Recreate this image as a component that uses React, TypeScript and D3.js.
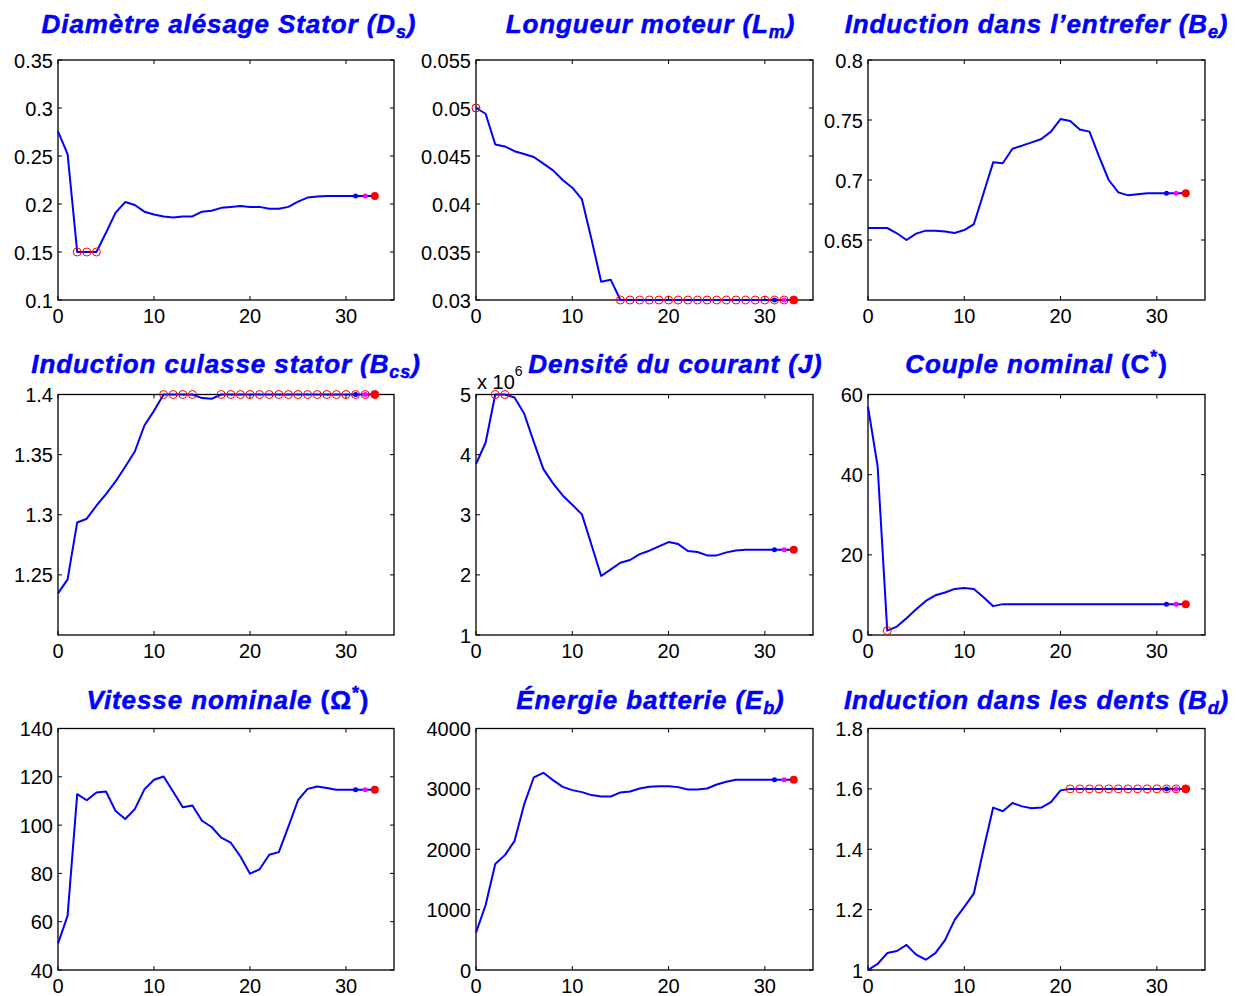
import React from "react";
import * as d3 from "d3";

// ---------- DATA ----------
const ITERATIONS = d3.range(0, 34); // x values 0..33

const DS = [0.2756, 0.252, 0.15, 0.15, 0.15, 0.170, 0.191, 0.202, 0.199, 0.192,
  0.189, 0.187, 0.186, 0.187, 0.187, 0.192, 0.193, 0.196, 0.197, 0.198,
  0.197, 0.197, 0.195, 0.195, 0.197, 0.2025, 0.2067, 0.2077, 0.2084, 0.2084,
  0.2084, 0.2084, 0.2084, 0.2084];
const DS_BOUND = [2, 3, 4];

const LM = [0.05, 0.0494, 0.0462, 0.0460, 0.0455, 0.0452, 0.0449, 0.0442, 0.0435, 0.0425,
  0.0417, 0.0405, 0.0363, 0.0319, 0.0321, 0.03, 0.03, 0.03, 0.03, 0.03,
  0.03, 0.03, 0.03, 0.03, 0.03, 0.03, 0.03, 0.03, 0.03, 0.03,
  0.03, 0.03, 0.03, 0.03];
const LM_BOUND = [0, 15, 16, 17, 18, 19, 20, 21, 22, 23, 24, 25, 26, 27, 28, 29, 30, 31, 32, 33];

const BE = [0.66, 0.66, 0.66, 0.6556, 0.65, 0.6553, 0.6578, 0.6578, 0.657, 0.6558,
  0.6583, 0.6633, 0.6889, 0.7147, 0.7139, 0.7261, 0.7286, 0.7314, 0.7342, 0.7403,
  0.7508, 0.7492, 0.742, 0.7403, 0.7194, 0.70, 0.6897, 0.6872, 0.6881, 0.6889,
  0.6889, 0.6889, 0.6889, 0.6889];
const BE_BOUND: number[] = [];

const BCS = [1.2346, 1.2463, 1.2936, 1.2967, 1.3075, 1.3172, 1.3277, 1.3399, 1.3526, 1.3742,
  1.3864, 1.4, 1.4, 1.4, 1.4, 1.397, 1.3964, 1.4, 1.4, 1.4,
  1.4, 1.4, 1.4, 1.4, 1.4, 1.4, 1.4, 1.4, 1.4, 1.4,
  1.4, 1.4, 1.4, 1.4];
const BCS_BOUND = [11, 12, 13, 14, 17, 18, 19, 20, 21, 22, 23, 24, 25, 26, 27, 28, 29, 30, 31, 32, 33];

const J = [3.842e6, 4.202e6, 5e6, 5e6, 4.95e6, 4.684e6, 4.213e6, 3.759e6, 3.521e6, 3.321e6,
  3.166e6, 3.006e6, 2.496e6, 1.981e6, 2.091e6, 2.202e6, 2.247e6, 2.346e6, 2.402e6, 2.474e6,
  2.546e6, 2.512e6, 2.396e6, 2.380e6, 2.324e6, 2.324e6, 2.374e6, 2.407e6, 2.418e6, 2.418e6,
  2.418e6, 2.418e6, 2.418e6, 2.418e6];
const J_BOUND = [2, 3];

const COUPLE = [56.9, 42.1, 1.1, 2.1, 4.2, 6.4, 8.5, 9.9, 10.6, 11.5,
  11.7, 11.5, 9.4, 7.2, 7.7, 7.7, 7.7, 7.7, 7.7, 7.7,
  7.7, 7.7, 7.7, 7.7, 7.7, 7.7, 7.7, 7.7, 7.7, 7.7,
  7.7, 7.7, 7.7, 7.7];
const COUPLE_BOUND = [2];

const VITESSE = [50.9, 62.5, 112.8, 110.3, 113.5, 113.9, 105.8, 102.5, 106.6, 114.8,
  118.8, 120.1, 113.8, 107.4, 108.1, 101.8, 99.2, 94.8, 92.7, 87.0,
  79.9, 81.7, 87.7, 88.8, 99.4, 110.3, 115.0, 116.0, 115.4, 114.6,
  114.6, 114.6, 114.6, 114.6];
const VITESSE_BOUND: number[] = [];

const EB = [618, 1076, 1754, 1903, 2135, 2742, 3189, 3266, 3145, 3034,
  2979, 2946, 2897, 2874, 2874, 2941, 2957, 3007, 3034, 3045,
  3045, 3029, 2990, 2990, 3007, 3073, 3117, 3150, 3150, 3150,
  3150, 3150, 3150, 3150];
const EB_BOUND: number[] = [];

const BD = [1.0, 1.02, 1.056, 1.063, 1.083, 1.051, 1.034, 1.056, 1.099, 1.166,
  1.209, 1.254, 1.400, 1.538, 1.526, 1.553, 1.542, 1.536, 1.538, 1.556,
  1.595, 1.6, 1.6, 1.6, 1.6, 1.6, 1.6, 1.6, 1.6, 1.6,
  1.6, 1.6, 1.6, 1.6];
const BD_BOUND = [21, 22, 23, 24, 25, 26, 27, 28, 29, 30, 31, 32, 33];

const X_TICKS = [0, 10, 20, 30];
const MARK_BLUE = 31;
const MARK_MAGENTA = 32;
const MARK_RED = 33;

type Seg = { t: string; sub?: boolean; sup?: boolean; upright?: boolean };

const PANELS: {
  title: Seg[];
  values: number[];
  bound: number[];
  domain: [number, number];
  ticks: number[];
  scale?: number;
  titleShift?: number;
}[] = [
  { title: [{ t: "Diamètre alésage Stator (D" }, { t: "s", sub: true }, { t: ")" }], values: DS, bound: DS_BOUND, domain: [0.1, 0.35], ticks: [0.1, 0.15, 0.2, 0.25, 0.3, 0.35], titleShift: 3 },
  { title: [{ t: "Longueur moteur (L" }, { t: "m", sub: true }, { t: ")" }], values: LM, bound: LM_BOUND, domain: [0.03, 0.055], ticks: [0.03, 0.035, 0.04, 0.045, 0.05, 0.055], titleShift: 6 },
  { title: [{ t: "Induction dans l’entrefer (B" }, { t: "e", sub: true }, { t: ")" }], values: BE, bound: BE_BOUND, domain: [0.6, 0.8], ticks: [0.65, 0.7, 0.75, 0.8] },
  { title: [{ t: "Induction culasse stator (B" }, { t: "cs", sub: true }, { t: ")" }], values: BCS, bound: BCS_BOUND, domain: [1.2, 1.4], ticks: [1.25, 1.3, 1.35, 1.4] },
  { title: [{ t: "Densité du courant (J)" }], values: J, bound: J_BOUND, domain: [1e6, 5e6], ticks: [1e6, 2e6, 3e6, 4e6, 5e6], scale: 1e6, titleShift: 31 },
  { title: [{ t: "Couple nominal " }, { t: "(C", upright: true }, { t: "*", sup: true, upright: true }, { t: ")", upright: true }], values: COUPLE, bound: COUPLE_BOUND, domain: [0, 60], ticks: [0, 20, 40, 60] },
  { title: [{ t: "Vitesse nominale " }, { t: "(Ω", upright: true }, { t: "*", sup: true, upright: true }, { t: ")", upright: true }], values: VITESSE, bound: VITESSE_BOUND, domain: [40, 140], ticks: [40, 60, 80, 100, 120, 140], titleShift: 2 },
  { title: [{ t: "Énergie batterie (E" }, { t: "b", sub: true }, { t: ")" }], values: EB, bound: EB_BOUND, domain: [0, 4000], ticks: [0, 1000, 2000, 3000, 4000], titleShift: 6 },
  { title: [{ t: "Induction dans les dents (B" }, { t: "d", sub: true }, { t: ")" }], values: BD, bound: BD_BOUND, domain: [1, 1.8], ticks: [1, 1.2, 1.4, 1.6, 1.8] },
];

// ---------- LAYOUT ----------
const W = 1236;
const H = 996;
const COLS = [
  [58, 394],
  [476, 813],
  [868, 1205],
];
const ROWS = [
  [60, 300],
  [394.5, 635],
  [728.5, 970],
];
const FONT = "'Liberation Sans', Arial, Helvetica, sans-serif";
const BLUE = "#0000ff";

const fmt = (v: number) => String(+v.toPrecision(6));

function Title({ segs, cx, y }: { segs: Seg[]; cx: number; y: number }) {
  const out: React.ReactNode[] = [];
  let shift = 0;
  segs.forEach((s, i) => {
    const target = s.sub ? 5 : s.sup ? -10 : 0;
    const dy = target - shift;
    shift = target;
    out.push(
      <tspan
        key={i}
        dy={dy}
        fontSize={s.sub || s.sup ? 18 : 26}
        fontStyle={s.upright ? "normal" : "italic"}
      >
        {s.t}
      </tspan>
    );
  });
  return (
    <text
      x={cx}
      y={y}
      textAnchor="middle"
      fontFamily={FONT}
      fontWeight="bold"
      fill={BLUE}
      stroke={BLUE}
      strokeWidth={0.5}
      letterSpacing={0.9}
      fontSize={26}
    >
      {out}
    </text>
  );
}

function Panel({ p, idx }: { p: (typeof PANELS)[number]; idx: number }) {
  const [x0, x1] = COLS[idx % 3];
  const [y0, y1] = ROWS[Math.floor(idx / 3)];
  const x = d3.scaleLinear().domain([0, 35]).range([x0, x1]);
  const y = d3.scaleLinear().domain(p.domain).range([y1, y0]);
  const line = d3
    .line<number>()
    .x((_, i) => x(ITERATIONS[i]))
    .y((d) => y(d));
  const tl = 4;
  const sc = p.scale || 1;
  const titleY = [33, 373, 709][Math.floor(idx / 3)];
  return (
    <g>
      <Title segs={p.title} cx={(x0 + x1) / 2 + (p.titleShift || 0)} y={titleY} />
      {X_TICKS.map((t) => (
        <g key={"xt" + t}>
          <line x1={x(t)} x2={x(t)} y1={y1} y2={y1 - tl} stroke="#000" strokeWidth={1} />
          <line x1={x(t)} x2={x(t)} y1={y0} y2={y0 + tl} stroke="#000" strokeWidth={1} />
          <text x={x(t)} y={y1 + 22.5} textAnchor="middle" fontFamily={FONT} fontSize={20} fill="#000">
            {t}
          </text>
        </g>
      ))}
      {p.ticks.map((t) => (
        <g key={"yt" + t}>
          <line x1={x0} x2={x0 + tl} y1={y(t)} y2={y(t)} stroke="#000" strokeWidth={1} />
          <line x1={x1} x2={x1 - tl} y1={y(t)} y2={y(t)} stroke="#000" strokeWidth={1} />
          <text x={x0 - 5} y={y(t) + 7.5} textAnchor="end" fontFamily={FONT} fontSize={20} fill="#000">
            {fmt(t / sc)}
          </text>
        </g>
      ))}
      {p.scale ? (
        <text x={x0 + 1} y={y0 - 5.5} fontFamily={FONT} fontSize={20} fill="#000">
          x 10
          <tspan dy={-13} fontSize={14}>6</tspan>
        </text>
      ) : null}
      <rect x={x0} y={y0} width={x1 - x0} height={y1 - y0} fill="none" stroke="#000" strokeWidth={1.3} />
      <path d={line(p.values) || ""} fill="none" stroke={BLUE} strokeWidth={2} strokeLinejoin="round" />
      {p.bound.map((i) => (
        <circle key={"b" + i} cx={x(ITERATIONS[i])} cy={y(p.values[i])} r={4} fill="none" stroke="#ff0000" strokeWidth={1} />
      ))}
      <circle cx={x(ITERATIONS[MARK_BLUE])} cy={y(p.values[MARK_BLUE])} r={2.5} fill={BLUE} />
      <circle cx={x(ITERATIONS[MARK_MAGENTA])} cy={y(p.values[MARK_MAGENTA])} r={2.5} fill="#ff00ff" />
      <circle cx={x(ITERATIONS[MARK_RED])} cy={y(p.values[MARK_RED])} r={4} fill="#ff0000" />
    </g>
  );
}

export default function App() {
  return (
    <svg
      width={W}
      height={H}
      viewBox={`0 0 ${W} ${H}`}
      style={{ position: "absolute", left: 0, top: 0, background: "#fff" }}
    >
      <rect x={0} y={0} width={W} height={H} fill="#fff" />
      {PANELS.map((p, i) => (
        <Panel key={i} p={p} idx={i} />
      ))}
    </svg>
  );
}
